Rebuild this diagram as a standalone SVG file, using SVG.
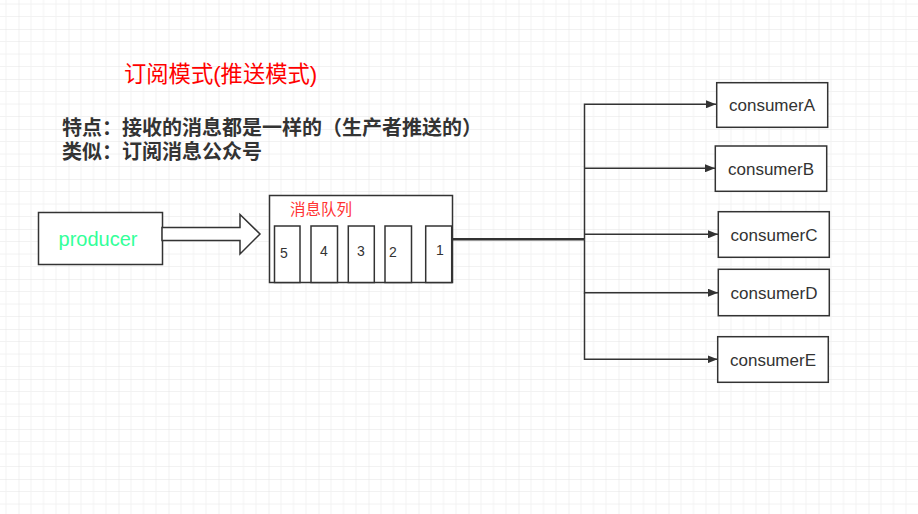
<svg xmlns="http://www.w3.org/2000/svg" width="918" height="514" viewBox="0 0 918 514">
<defs>
<pattern id="grid" x="18.5" y="29" width="50" height="50" patternUnits="userSpaceOnUse">
<path d="M12.5 0V50M25 0V50M37.5 0V50M0 12.5H50M0 25H50M0 37.5H50" stroke="#f2f2f2" stroke-width="1" fill="none"/>
<path d="M0 0V50M0 0H50" stroke="#e3e3e3" stroke-width="1" fill="none"/>
</pattern>
<marker id="arr" markerWidth="10" markerHeight="8" refX="10" refY="4" orient="auto" markerUnits="userSpaceOnUse">
<path d="M0 0L10 4L0 8Z" fill="#333"/>
</marker>
<style>
.box{fill:#fff;stroke:#333;stroke-width:1.5}
.lbl{font-family:"Liberation Sans","Noto Sans CJK SC",sans-serif;fill:#333;font-size:17px;text-anchor:middle}
.num{font-family:"Liberation Sans",sans-serif;fill:#333;font-size:14px;text-anchor:middle}
.cjk{font-family:"Liberation Sans","Noto Sans CJK SC",sans-serif}
.conn{fill:none;stroke:#333;stroke-width:1.5}
</style>
</defs>
<rect width="918" height="514" fill="#fff"/>
<rect width="918" height="514" fill="url(#grid)"/>

<g id="title">
<text class="cjk" x="124" y="82" font-size="22.3" fill="#ff0000">订阅模式(推送模式)</text>
</g>
<g id="notes">
<text class="cjk" x="62" y="135" font-size="20" font-weight="bold" fill="#333">特点：接收的消息都是一样的（生产者推送的）</text>
<text class="cjk" x="62" y="159" font-size="20" font-weight="bold" fill="#333">类似：订阅消息公众号</text>
</g>

<g id="producer">
<rect class="box" x="38.5" y="212.5" width="124" height="52"/>
<text class="cjk" x="98" y="246" font-size="20" fill="#33ff99" text-anchor="middle">producer</text>
</g>

<g id="push-arrow">
<path d="M162 227.5H240V214.5L260 234L240 254V240.5H162Z" fill="#fff" stroke="#333" stroke-width="1.5" stroke-linejoin="miter"/>
</g>

<g id="queue">
<rect class="box" x="269.5" y="195.5" width="183" height="87"/>
<text class="cjk" x="290" y="215" font-size="15.5" fill="#ff3333">消息队列</text>
<rect class="box" x="274.5" y="226" width="25.5" height="56.5"/>
<rect class="box" x="311" y="226" width="26.5" height="56.5"/>
<rect class="box" x="348.3" y="226" width="26" height="56.5"/>
<rect class="box" x="385" y="226" width="26.5" height="56.5"/>
<rect class="box" x="425.7" y="226" width="26" height="56.5"/>
<text class="num" x="284" y="258">5</text>
<text class="num" x="324" y="256">4</text>
<text class="num" x="361" y="256">3</text>
<text class="num" x="393" y="257">2</text>
<text class="num" x="440" y="255">1</text>
</g>

<g id="connectors">
<path d="M452.5 239.3H584.5" fill="none" stroke="#333" stroke-width="2.5"/>
<path class="conn" d="M584.5 239.3V104.3H716" marker-end="url(#arr)"/>
<path class="conn" d="M584.5 168.3H715" marker-end="url(#arr)"/>
<path class="conn" d="M584.5 234.3H718" marker-end="url(#arr)"/>
<path class="conn" d="M584.5 239.3V292.7H718" marker-end="url(#arr)"/>
<path class="conn" d="M584.5 292.7V359.3H717.5" marker-end="url(#arr)"/>
</g>

<g id="consumerA">
<rect class="box" x="716.7" y="82.7" width="111" height="44.6"/>
<text class="lbl" x="772" y="111">consumerA</text>
</g>
<g id="consumerB">
<rect class="box" x="715.3" y="146" width="111.4" height="45.3"/>
<text class="lbl" x="771" y="175">consumerB</text>
</g>
<g id="consumerC">
<rect class="box" x="718.3" y="211.7" width="111" height="45.6"/>
<text class="lbl" x="774" y="241">consumerC</text>
</g>
<g id="consumerD">
<rect class="box" x="718.3" y="269.3" width="111" height="46.4"/>
<text class="lbl" x="774" y="299">consumerD</text>
</g>
<g id="consumerE">
<rect class="box" x="717.7" y="336.7" width="110.6" height="45.6"/>
<text class="lbl" x="773" y="366">consumerE</text>
</g>
</svg>
